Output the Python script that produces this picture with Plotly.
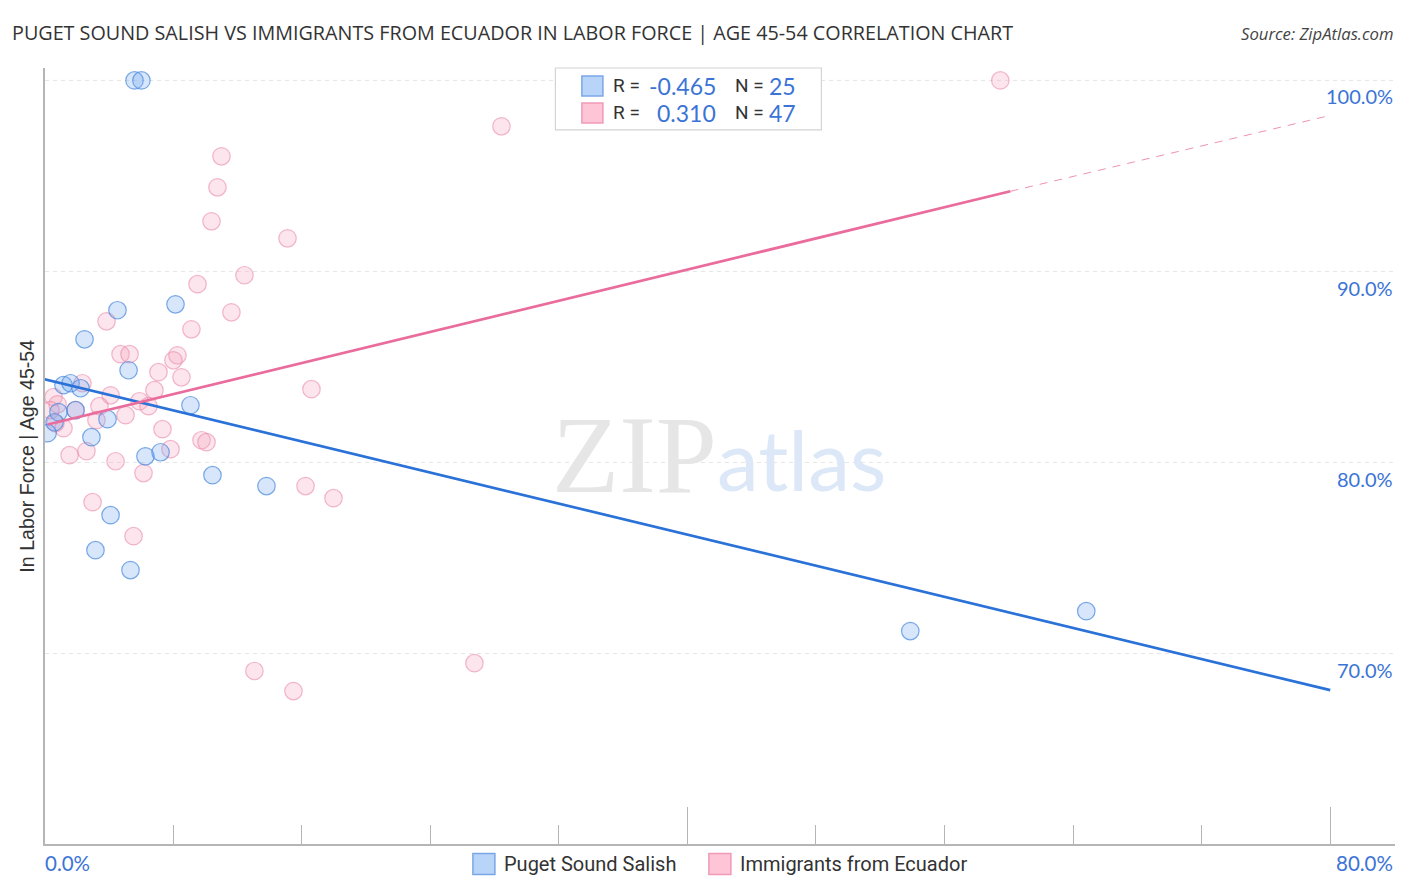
# Puget Sound Salish vs immigrants from Ecuador, labor force correlation chart

import plotly.graph_objects as go

W = 1406
H = 892
LEFT, RIGHT, TOP, BOTTOM = 44.6, 1394.6, 68, 844.5

# Values
salish_x = [5.60, 6.03, 4.54, 8.15, 2.49, 5.23, 1.18, 1.62, 2.24, 9.08, 3.92, 1.93, 0.87,
            0.62, 0.19, 2.92, 6.28, 7.22, 10.45, 13.81, 4.11, 3.17, 5.35, 53.87, 64.82]
salish_y = [100.0, 100.0, 87.98, 88.29, 86.46, 84.84, 84.06, 84.16, 83.90, 83.01, 82.28, 82.75, 82.65,
            82.12, 81.55, 81.34, 80.34, 80.55, 79.35, 78.78, 77.26, 75.43, 74.39, 71.20, 72.24]

ecuador_x = [59.47, 28.43, 11.01, 10.76, 10.39, 15.12, 12.44, 9.52, 11.63, 3.86,
             9.14, 4.73, 5.29, 8.27, 8.02, 8.52, 7.09, 2.36, 6.84, 16.61,
             4.11, 0.56, 0.81, 0.37, 5.91, 6.47, 3.42, 1.93, 5.04, 3.23,
             0.68, 1.18, 7.34, 9.77, 10.08, 7.84, 2.61, 1.56, 4.42, 6.16,
             16.24, 17.98, 2.99, 5.54, 13.06, 15.49, 26.75]
ecuador_y = [100.0, 97.60, 96.03, 94.41, 92.63, 91.74, 89.81, 89.34, 87.87, 87.40,
             86.98, 85.68, 85.68, 85.62, 85.36, 84.47, 84.74, 84.16, 83.80, 83.85,
             83.53, 83.43, 83.06, 82.75, 83.22, 82.96, 82.96, 82.75, 82.49, 82.23,
             82.07, 81.81, 81.76, 81.18, 81.08, 80.71, 80.61, 80.40, 80.08, 79.46,
             78.78, 78.15, 77.94, 76.16, 69.11, 68.06, 69.52]

# Trend lines
salish_trend_x = [0.0, 80.0]
salish_trend_y = [84.37, 68.11]
ecuador_trend_x = [0.2, 60.1]
ecuador_trend_y = [82.0, 94.2]
ecuador_dash_x = [60.1, 80.0]
ecuador_dash_y = [94.2, 98.17]

y_ticks = [100, 90, 80, 70]
y_labels = ['100.0%', '90.0%', '80.0%', '70.0%']

BLUE = '#3b74d6'
DARK = '#333333'


# paper coordinates are relative to the plot area
def px(x):
    return (x - LEFT) / (RIGHT - LEFT)


def py(y):
    return (BOTTOM - y) / (BOTTOM - TOP)


def note(x, y, text, size, color=DARK, font='Roboto', anchor='left'):
    return dict(xref='paper', yref='paper', x=px(x), y=py(y), text=text, showarrow=False,
                xanchor=anchor, yanchor='middle', font=dict(family=font, size=size, color=color),
                xshift=0)


def box(x0, y0, x1, y1, fill, line, width=1.5, layer='above'):
    return dict(type='rect', xref='paper', yref='paper', x0=px(x0), x1=px(x1), y0=py(y0), y1=py(y1),
                fillcolor=fill, line=dict(color=line, width=width), layer=layer)


fig = go.Figure()

fig.add_trace(go.Scatter(x=ecuador_x, y=ecuador_y, mode='markers', name='Immigrants from Ecuador',
                         marker=dict(size=17.5, color='rgba(246,160,188,0.28)',
                                     line=dict(color='rgba(232,130,165,0.55)', width=1.2))))
fig.add_trace(go.Scatter(x=salish_x, y=salish_y, mode='markers', name='Puget Sound Salish',
                         marker=dict(size=17.5, color='rgba(110,165,240,0.28)',
                                     line=dict(color='rgba(70,135,220,0.7)', width=1.2))))
fig.add_trace(go.Scatter(x=salish_trend_x, y=salish_trend_y, mode='lines',
                         line=dict(color='#2a72d8', width=2.7)))
fig.add_trace(go.Scatter(x=ecuador_trend_x, y=ecuador_trend_y, mode='lines',
                         line=dict(color='#ea6c9c', width=2.7)))
fig.add_trace(go.Scatter(x=ecuador_dash_x, y=ecuador_dash_y, mode='lines',
                         line=dict(color='rgba(234,108,156,0.75)', width=1, dash='8px,7px')))

annotations = [
    note(10, 32, 'PUGET SOUND SALISH VS IMMIGRANTS FROM ECUADOR IN LABOR FORCE | AGE 45-54 CORRELATION CHART',
         19.75, font='Open Sans'),
    note(1396, 33, '<i>Source: ZipAtlas.com</i>', 16.7, color='#444444', font='Open Sans', anchor='right'),
    # watermark
    note(550, 455, 'ZIP', 110, color='#e6e6e6', font='Liberation Serif'),
    note(715, 459, 'atlas', 84, color='#dce8f7', font='Lato'),
    # inset stats
    note(611, 86, 'R =', 19),
    note(611, 113, 'R =', 19),
    note(718, 86, '-0.465', 23, color=BLUE, font='Lato', anchor='right'),
    note(718, 113, '0.310', 23, color=BLUE, font='Lato', anchor='right'),
    note(733, 86, 'N =', 19),
    note(733, 113, 'N =', 19),
    note(798, 86, '25', 23, color=BLUE, font='Lato', anchor='right'),
    note(798, 113, '47', 23, color=BLUE, font='Lato', anchor='right'),
    # x labels
    note(43, 863.5, '0.0%', 20.5, color=BLUE, font='Lato'),
    note(1395, 863.5, '80.0%', 20.5, color=BLUE, font='Lato', anchor='right'),
    # bottom legend
    note(502, 865, 'Puget Sound Salish', 20),
    note(738, 865, 'Immigrants from Ecuador', 20),
    # y title
    dict(xref='paper', yref='paper', x=px(26.5), y=py(456), text='In Labor Force | Age 45-54', textangle=-90,
         showarrow=False, xanchor='center', yanchor='middle',
         font=dict(family='Liberation Sans', size=19.6, color=DARK)),
]
for tick, label in zip(y_ticks, y_labels):
    annotations.append(dict(xref='paper', yref='y', x=px(1395), y=tick, yshift=-16, text=label, showarrow=False,
                            xanchor='right', yanchor='middle', font=dict(family='Lato', size=20, color=BLUE)))

shapes = [
    # the top gridline is darker than the others
    dict(type='line', xref='paper', yref='y', x0=0, x1=1, y0=y_ticks[0], y1=y_ticks[0], layer='below',
         line=dict(color='#cfcfcf', width=1, dash='4px,4px')),
    box(555, 68, 821, 130, 'white', '#d4d4d4', width=1.2),
    box(581.5, 76, 602.5, 96, '#b9d4f9', '#7ba6e6'),
    box(581.5, 103, 602.5, 123, '#fdc5d6', '#f09ab6'),
    box(472.5, 854, 494.5, 875, '#b9d4f9', '#7ba6e6'),
    box(708.5, 854, 730.5, 875, '#fdc5d6', '#f09ab6'),
]

fig.update_layout(
    width=W,
    height=H,
    autosize=False,
    margin=dict(l=LEFT, r=W - RIGHT, t=TOP, b=H - BOTTOM, autoexpand=False),
    paper_bgcolor='white',
    plot_bgcolor='white',
    showlegend=False,
    annotations=annotations,
    shapes=shapes,
    xaxis=dict(range=[0.03, 84.03], showgrid=False, zeroline=False, showline=True, linecolor='#b5b5b5', linewidth=1.5,
               tickvals=[0.03, 40, 80], ticks='inside', ticklen=37, tickcolor='#b5b5b5', tickwidth=1.2,
               showticklabels=False,
               minor=dict(tickvals=[8, 16, 24, 32, 48, 56, 64, 72], ticks='inside', ticklen=19,
                          tickcolor='#b5b5b5', tickwidth=1.2)),
    yaxis=dict(range=[60.06, 100.65], showgrid=True, gridcolor='#e6e6e6', griddash='4px,4px', gridwidth=1,
               zeroline=False, showline=True, linecolor='#b5b5b5', linewidth=1.5,
               tickvals=y_ticks, ticks='', showticklabels=False),
)

fig.write_html("out.html", config={'displayModeBar': False},
               post_script="document.body.style.margin='0';document.body.style.overflow='hidden';")
